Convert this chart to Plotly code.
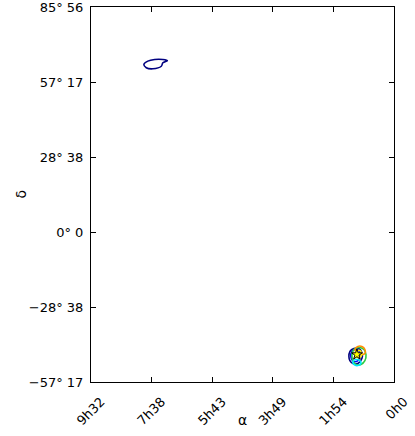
import plotly.graph_objects as go

# right ascension / declination in radians
ra_ticks = [2.5, 2.0, 1.5, 1.0, 0.5, 0.0]
ra_labels = ['9h32', '7h38', '5h43', '3h49', '1h54', '0h0']
dec_ticks = [1.5, 1.0, 0.5, 0.0, -0.5, -1.0]
dec_labels = ['85° 56', '57° 17', '28° 38', '0° 0', '−28° 38', '−57° 17']

# northern island of the lowest contour level
north_ra = [2.064, 2.031, 1.975, 1.907, 1.870, 1.907, 1.920, 1.989, 2.044, 2.064]
north_dec = [1.117, 1.139, 1.150, 1.150, 1.143, 1.128, 1.105, 1.088, 1.095, 1.117]

# southern cluster of contour levels
navy_ra = [0.372, 0.364, 0.331, 0.290, 0.265, 0.265, 0.298, 0.339, 0.364, 0.372]
navy_dec = [-0.830, -0.797, -0.777, -0.777, -0.803, -0.843, -0.877, -0.877, -0.857, -0.830]

blue_ra = [0.356, 0.347, 0.322, 0.290, 0.282, 0.298, 0.331, 0.356]
blue_dec = [-0.830, -0.797, -0.783, -0.790, -0.823, -0.857, -0.863, -0.830]

green_ra = [0.347, 0.331, 0.290, 0.248, 0.231, 0.240, 0.273, 0.314, 0.339, 0.347]
green_dec = [-0.823, -0.783, -0.770, -0.783, -0.817, -0.857, -0.883, -0.883, -0.857, -0.823]

cyan_ra = [0.339, 0.314, 0.282, 0.273, 0.298, 0.331, 0.339]
cyan_dec = [-0.863, -0.850, -0.857, -0.877, -0.890, -0.883, -0.863]

orange_ra = [0.322, 0.298, 0.265, 0.240, 0.240, 0.265, 0.298, 0.322]
orange_dec = [-0.783, -0.763, -0.763, -0.783, -0.810, -0.817, -0.810, -0.783]

yellow_ra = [0.314, 0.282, 0.265, 0.290, 0.314, 0.314]
yellow_dec = [-0.797, -0.790, -0.817, -0.837, -0.830, -0.797]

star_ra = [0.306]
star_dec = [-0.817]

FONT = 'DejaVu Sans'

contours = [
    (north_ra, north_dec, '#000080'),
    (navy_ra, navy_dec, '#000080'),
    (blue_ra, blue_dec, '#0000ff'),
    (green_ra, green_dec, '#2ecc40'),
    (cyan_ra, cyan_dec, '#00e5ff'),
    (orange_ra, orange_dec, '#ff8c00'),
    (yellow_ra, yellow_dec, '#ffee00'),
]

fig = go.Figure()

for ra, dec, color in contours:
    fig.add_trace(go.Scatter(
        x=ra, y=dec,
        mode='lines',
        line=dict(color=color, width=1.6, shape='spline'),
        hoverinfo='skip'
    ))

fig.add_trace(go.Scatter(
    x=star_ra, y=star_dec,
    mode='markers',
    marker=dict(symbol='star', size=8, color='#ffff00',
                line=dict(color='black', width=1)),
    hoverinfo='skip'
))

axis_style = dict(
    showgrid=False,
    zeroline=False,
    showline=True,
    linecolor='black',
    linewidth=1,
    mirror='ticks',
    ticks='inside',
    ticklen=5,
    tickcolor='black',
    automargin=False,
    ticklabeloverflow='allow',
    tickfont=dict(family=FONT, size=13, color='black'),
)

# plot area in pixels: x 91..394, y 7..382
fig.update_layout(
    width=415,
    height=436,
    showlegend=False,
    paper_bgcolor='white',
    plot_bgcolor='white',
    margin=dict(l=91, r=21, t=7, b=54),
    xaxis=dict(
        range=[2.5, 0.0],
        tickmode='array',
        tickvals=ra_ticks,
        ticktext=ra_labels,
        tickangle=-45,
        ticklabelshift=-10,
        ticklabelstandoff=6,
        **axis_style
    ),
    yaxis=dict(
        range=[-1.0, 1.5],
        tickmode='array',
        tickvals=dec_ticks,
        ticktext=dec_labels,
        ticklabelstandoff=4,
        **axis_style
    ),
    annotations=[
        dict(text='α', x=0.5, y=-(420 - 382) / 375, xref='paper', yref='paper',
             showarrow=False, yanchor='middle',
             font=dict(family=FONT, size=14, color='black')),
        dict(text='δ', x=-(91 - 20) / 303, y=0.5, xref='paper', yref='paper',
             showarrow=False, xanchor='center', textangle=-90,
             font=dict(family=FONT, size=14, color='black')),
    ],
)

fig.write_html("out.html", config={'displayModeBar': False},
               post_script="document.body.style.margin='0px';")
